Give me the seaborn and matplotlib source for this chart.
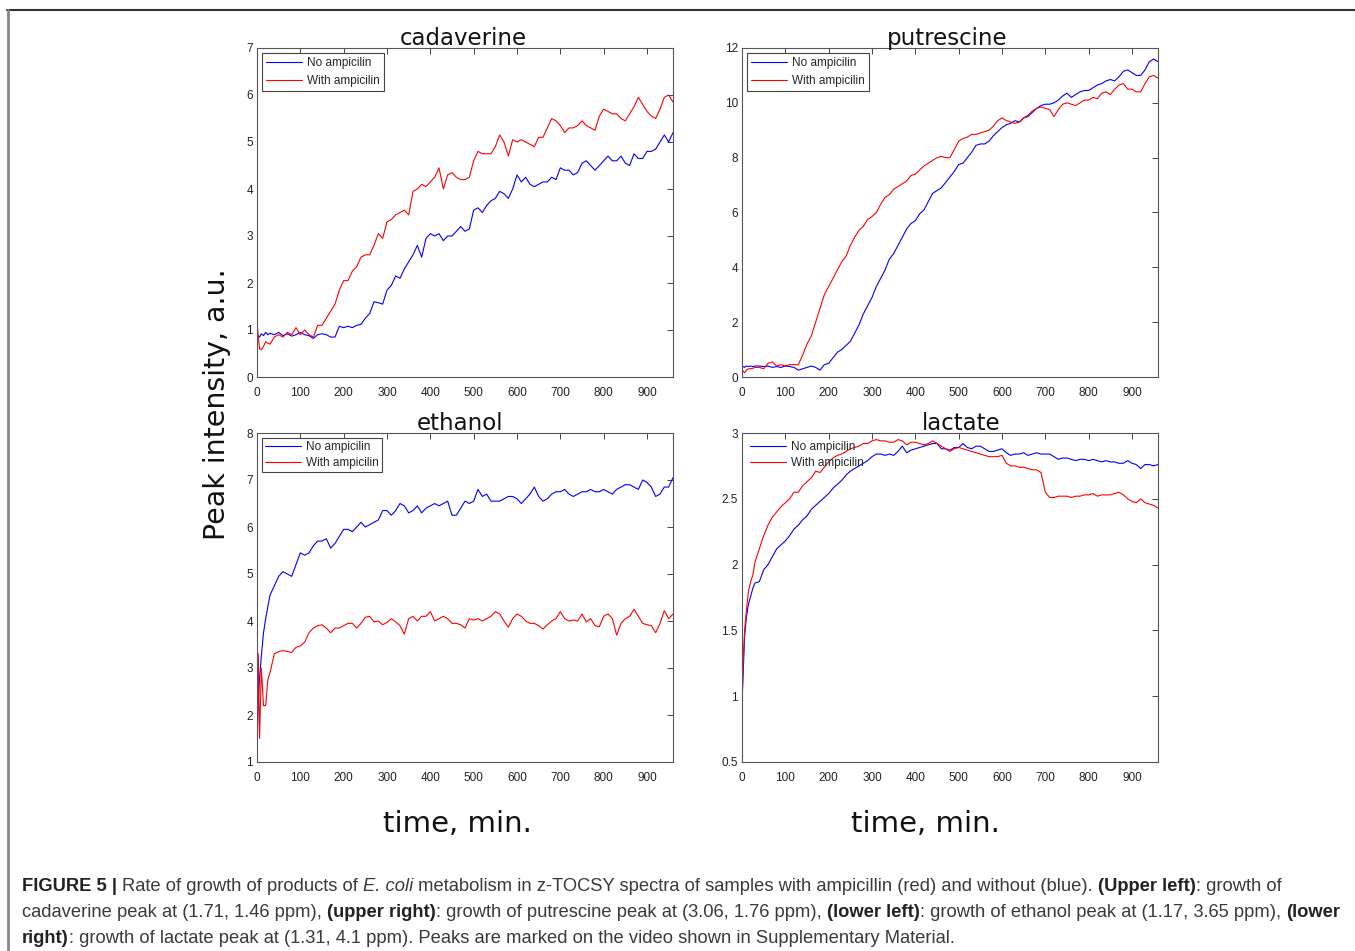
import matplotlib
matplotlib.use("Agg")
import matplotlib.pyplot as plt
from matplotlib.lines import Line2D
import pandas as pd
import seaborn as sns

sns.set_theme(style="white")
plt.rcParams["font.family"] = ["DejaVu Sans"]

# time axis (minutes), finer at the start where ethanol/lactate jump
minutes = [0, 3, 6, 10, 15, 20, 25, 30] + list(range(40, 961, 10))

labels = ["No ampicilin", "With ampicilin"]
colors = ["#0000ff", "#ff0000"]

cad_no = [0.9, 0.88, 0.85, 0.92, 0.88, 0.95, 0.9, 0.93,
          0.9, 0.95, 0.88, 0.92, 0.87, 0.9, 0.95, 0.9, 0.88, 0.82,
          0.9, 0.92, 0.9, 0.85, 0.85, 1.08, 1.05, 1.08, 1.05, 1.1,
          1.12, 1.25, 1.35, 1.6, 1.58, 1.55, 1.85, 1.95, 2.15, 2.1,
          2.3, 2.45, 2.6, 2.8, 2.55, 2.95, 3.05, 3.0, 3.05, 2.9,
          3.0, 3.0, 3.1, 3.2, 3.1, 3.15, 3.55, 3.6, 3.5, 3.65,
          3.75, 3.8, 3.95, 3.9, 3.8, 4.0, 4.3, 4.15, 4.25, 4.1,
          4.05, 4.1, 4.15, 4.15, 4.25, 4.2, 4.45, 4.4, 4.4, 4.3,
          4.35, 4.55, 4.6, 4.5, 4.4, 4.5, 4.6, 4.7, 4.6, 4.6,
          4.7, 4.55, 4.5, 4.75, 4.65, 4.65, 4.8, 4.8, 4.85, 5.0,
          5.15, 5.0, 5.2]
cad_amp = [1.15, 0.85, 0.6, 0.58, 0.65, 0.75, 0.72, 0.7,
           0.85, 0.9, 0.85, 0.95, 0.9, 1.05, 0.9, 1.0, 0.9, 0.85,
           1.1, 1.1, 1.25, 1.4, 1.55, 1.85, 2.05, 2.05, 2.25, 2.35,
           2.55, 2.6, 2.6, 2.8, 3.05, 2.95, 3.3, 3.35, 3.45, 3.5,
           3.55, 3.45, 3.95, 4.0, 4.1, 4.05, 4.15, 4.25, 4.45, 4.0,
           4.3, 4.35, 4.25, 4.2, 4.2, 4.25, 4.6, 4.8, 4.75, 4.75,
           4.75, 4.9, 5.15, 5.0, 4.7, 5.05, 5.0, 5.05, 5.0, 4.95,
           4.9, 5.1, 5.1, 5.3, 5.5, 5.45, 5.35, 5.2, 5.3, 5.3,
           5.35, 5.45, 5.35, 5.3, 5.25, 5.55, 5.7, 5.65, 5.6, 5.6,
           5.5, 5.45, 5.6, 5.75, 5.95, 5.8, 5.65, 5.55, 5.5, 5.7,
           5.95, 6.0, 5.85]

put_no = [0.35, 0.38, 0.35, 0.4, 0.38, 0.4, 0.38, 0.4,
          0.4, 0.38, 0.4, 0.35, 0.38, 0.35, 0.4, 0.38, 0.35, 0.25,
          0.3, 0.35, 0.4, 0.35, 0.25, 0.45, 0.5, 0.7, 0.9, 1.0,
          1.15, 1.3, 1.6, 1.9, 2.3, 2.6, 2.9, 3.3, 3.6, 3.9,
          4.3, 4.5, 4.8, 5.1, 5.4, 5.6, 5.7, 5.95, 6.1, 6.4,
          6.7, 6.8, 6.9, 7.1, 7.3, 7.5, 7.75, 7.8, 8.0, 8.2,
          8.45, 8.5, 8.5, 8.6, 8.8, 8.95, 9.1, 9.2, 9.25, 9.35,
          9.3, 9.45, 9.5, 9.65, 9.8, 9.9, 9.95, 9.95, 10.0, 10.1,
          10.25, 10.35, 10.2, 10.3, 10.4, 10.45, 10.45, 10.55, 10.65, 10.7,
          10.8, 10.85, 10.8, 10.95, 11.15, 11.2, 11.1, 11.0, 11.0, 11.2,
          11.5, 11.6, 11.5]
put_amp = [0.3, 0.2, 0.15, 0.25, 0.3, 0.3, 0.32, 0.35,
           0.35, 0.3, 0.5, 0.55, 0.4, 0.45, 0.4, 0.45, 0.45, 0.45,
           0.8, 1.2, 1.5, 2.0, 2.5, 3.0, 3.3, 3.6, 3.9, 4.2,
           4.4, 4.8, 5.1, 5.35, 5.5, 5.75, 5.85, 6.0, 6.3, 6.55,
           6.65, 6.85, 6.95, 7.05, 7.15, 7.35, 7.4, 7.55, 7.7, 7.8,
           7.9, 8.0, 8.05, 8.0, 8.0, 8.3, 8.6, 8.7, 8.75, 8.85,
           8.85, 8.9, 8.95, 9.0, 9.15, 9.35, 9.45, 9.35, 9.3, 9.25,
           9.3, 9.45, 9.55, 9.7, 9.8, 9.85, 9.8, 9.75, 9.5, 9.75,
           9.95, 10.0, 9.95, 9.9, 10.0, 10.1, 10.1, 10.2, 10.15, 10.35,
           10.4, 10.3, 10.5, 10.65, 10.7, 10.5, 10.5, 10.4, 10.4, 10.7,
           10.95, 11.0, 10.9]

eth_no = [1.15, 2.3, 2.8, 3.25, 3.75, 4.05, 4.3, 4.55,
          4.75, 4.95, 5.05, 5.0, 4.95, 5.2, 5.45, 5.4, 5.45, 5.6,
          5.7, 5.7, 5.75, 5.55, 5.65, 5.8, 5.95, 5.95, 5.9, 6.0,
          6.1, 6.0, 6.05, 6.1, 6.15, 6.35, 6.35, 6.25, 6.35, 6.5,
          6.45, 6.3, 6.35, 6.45, 6.3, 6.4, 6.45, 6.5, 6.45, 6.5,
          6.55, 6.25, 6.25, 6.4, 6.55, 6.5, 6.55, 6.8, 6.65, 6.7,
          6.55, 6.55, 6.55, 6.6, 6.65, 6.65, 6.6, 6.5, 6.6, 6.7,
          6.85, 6.65, 6.55, 6.6, 6.7, 6.75, 6.75, 6.8, 6.7, 6.65,
          6.7, 6.75, 6.75, 6.8, 6.75, 6.75, 6.8, 6.75, 6.7, 6.8,
          6.85, 6.9, 6.9, 6.85, 6.8, 7.0, 6.95, 6.85, 6.65, 6.7,
          6.85, 6.85, 7.05]
eth_amp = [1.15, 3.3, 1.5, 3.0, 2.2, 2.2, 2.75, 2.9,
           3.3, 3.35, 3.37, 3.35, 3.33, 3.44, 3.47, 3.55, 3.75, 3.85,
           3.9, 3.92, 3.85, 3.75, 3.85, 3.85, 3.9, 3.95, 3.95, 3.85,
           3.95, 4.08, 4.1, 3.98, 4.0, 3.92, 3.97, 4.05, 3.98, 3.9,
           3.72, 4.05, 4.1, 4.0, 4.1, 4.1, 4.2, 4.0, 4.05, 4.1,
           4.05, 3.95, 3.95, 3.92, 3.85, 4.05, 4.02, 4.05, 4.0, 4.05,
           4.1, 4.2, 4.15, 4.0, 3.87, 4.05, 4.15, 4.1, 4.0, 3.95,
           3.95, 3.9, 3.83, 3.92, 4.0, 4.05, 4.2, 4.05, 4.0, 4.02,
           4.0, 4.15, 3.98, 4.05, 3.9, 3.88, 4.1, 4.15, 4.05, 3.7,
           3.95, 4.05, 4.1, 4.25, 4.1, 3.95, 3.92, 3.9, 3.75, 3.95,
           4.22, 4.05, 4.15]

lac_no = [0.95, 1.2, 1.45, 1.6, 1.7, 1.76, 1.82, 1.86,
          1.87, 1.96, 2.0, 2.06, 2.12, 2.15, 2.18, 2.22, 2.27, 2.3,
          2.34, 2.37, 2.42, 2.45, 2.48, 2.51, 2.54, 2.58, 2.61, 2.64,
          2.68, 2.71, 2.73, 2.75, 2.77, 2.79, 2.82, 2.84, 2.84, 2.83,
          2.84, 2.83, 2.86, 2.9, 2.85, 2.87, 2.88, 2.89, 2.9, 2.91,
          2.92, 2.92, 2.88, 2.88, 2.87, 2.89, 2.89, 2.92, 2.89, 2.88,
          2.9, 2.9, 2.88, 2.86, 2.86, 2.87, 2.88, 2.85, 2.83, 2.84,
          2.84, 2.85, 2.83, 2.84, 2.85, 2.84, 2.84, 2.84, 2.82, 2.8,
          2.81, 2.81, 2.8, 2.79, 2.8, 2.8, 2.79, 2.8, 2.79, 2.78,
          2.79, 2.78, 2.78, 2.77, 2.77, 2.79, 2.77, 2.76, 2.73, 2.76,
          2.76, 2.75, 2.76]
lac_amp = [0.92, 1.3, 1.5, 1.65, 1.8, 1.87, 1.92, 2.02,
           2.12, 2.22, 2.3, 2.36, 2.4, 2.44, 2.47, 2.5, 2.55, 2.55,
           2.6, 2.63, 2.66, 2.71, 2.7, 2.74, 2.78, 2.81, 2.83, 2.84,
           2.86, 2.88, 2.89, 2.9, 2.92, 2.92, 2.94, 2.95, 2.94, 2.94,
           2.93, 2.93, 2.95, 2.94, 2.91, 2.93, 2.93, 2.92, 2.91, 2.92,
           2.94, 2.92, 2.9, 2.88, 2.86, 2.88, 2.89, 2.88, 2.87, 2.86,
           2.85, 2.84, 2.83, 2.82, 2.82, 2.82, 2.83, 2.77, 2.75, 2.75,
           2.74, 2.74, 2.73, 2.72, 2.72, 2.7, 2.55, 2.51, 2.51, 2.52,
           2.52, 2.52, 2.51, 2.52, 2.52, 2.53, 2.53, 2.54, 2.52, 2.53,
           2.53, 2.53, 2.54, 2.55, 2.53, 2.5, 2.48, 2.47, 2.5, 2.47,
           2.46, 2.45, 2.43]

x_ticks = [0, 100, 200, 300, 400, 500, 600, 700, 800, 900]
panels = [
    ("cadaverine", cad_no, cad_amp, (0, 7), [0, 1, 2, 3, 4, 5, 6, 7], None),
    ("putrescine", put_no, put_amp, (0, 12), [0, 2, 4, 6, 8, 10, 12], None),
    ("ethanol", eth_no, eth_amp, (1, 8), [1, 2, 3, 4, 5, 6, 7, 8], None),
    ("lactate", lac_no, lac_amp, (0.5, 3), [0.5, 1, 1.5, 2, 2.5, 3],
     ["0.5", "1", "1.5", "2", "2.5", "3"]),
]

W, H = 1355, 951
fig = plt.figure(figsize=(W / 100, H / 100), dpi=100)
fig.patch.set_facecolor("white")

# axes corners in pixels, and small title shifts as in the original
boxes = [(257, 48), (742, 48), (257, 433), (742, 433)]
title_shift = [-2, -2.5, -5.5, 11]
aw, ah = 416, 329

for i, ((title, no, amp, ylim, yt, ytl), (px, py)) in enumerate(zip(panels, boxes)):
    ax = fig.add_axes([px / W, 1 - (py + ah) / H, aw / W, ah / H])
    df = pd.DataFrame({
        "time": minutes + minutes,
        "value": no + amp,
        "condition": [labels[0]] * len(minutes) + [labels[1]] * len(minutes),
    })
    sns.lineplot(data=df, x="time", y="value", hue="condition",
                 palette=dict(zip(labels, colors)), estimator=None,
                 linewidth=0.8, legend=False, ax=ax)
    ax.set_xlim(0, 960)
    ax.set_ylim(*ylim)
    ax.set_xticks(x_ticks)
    ax.set_yticks(yt)
    if ytl is not None:
        ax.set_yticklabels(ytl)
    ax.set_xlabel("")
    ax.set_ylabel("")
    for lab in ax.get_xticklabels() + ax.get_yticklabels():
        lab.set_fontfamily("Liberation Sans")
        lab.set_fontsize(8.5)
        lab.set_color("#222222")
    ax.tick_params(direction="in", top=True, right=True, length=4,
                   width=0.7, color="#444444")
    ax.tick_params(axis="x", pad=7)
    ax.tick_params(axis="y", pad=3)
    for sp in ax.spines.values():
        sp.set_color("#555555")
        sp.set_linewidth(0.8)
    ax.set_title(title, fontsize=16.5, pad=2.5, color="#111111",
                 x=0.5 + title_shift[i] / aw)
    handles = [Line2D([], [], color=c, lw=0.8) for c in colors]
    top_row = i < 2
    leg = ax.legend(handles, labels, loc="upper left", fancybox=False,
                    edgecolor="#444444", framealpha=1 if title != "lactate" else 0,
                    prop={"family": "Liberation Sans", "size": 8.5},
                    handlelength=3.0, handletextpad=0.45, borderaxespad=0.45,
                    borderpad=0.35 if top_row else 0.25,
                    labelspacing=0.45 if top_row else 0.3)
    leg.get_frame().set_linewidth(0.8)

fig.text(217 / W, 1 - 404 / H, "Peak intensity, a.u.", rotation=90,
         fontsize=20.5, ha="center", va="center", color="#111111")
for cx in (457, 925):
    fig.text(cx / W, 1 - 824 / H, "time, min.", fontsize=21,
             ha="center", va="center", color="#111111")

# frame lines around the figure panel
fig.add_artist(Line2D([7 / W, 1], [1 - 10 / H, 1 - 10 / H], color="#333333", lw=1.5))
fig.add_artist(Line2D([8 / W, 8 / W], [0, 1 - 10 / H], color="#888888", lw=2))

# caption with mixed styles
renderer = fig.canvas.get_renderer()
cap_size = 13.2


def seg_width(txt, weight, style):
    a = fig.text(0, 0, "|" + txt + "|", fontsize=cap_size, weight=weight,
                 style=style, family="Liberation Sans")
    b = fig.text(0, 0, "||", fontsize=cap_size, weight=weight,
                 style=style, family="Liberation Sans")
    w = a.get_window_extent(renderer).width - b.get_window_extent(renderer).width
    a.remove()
    b.remove()
    return w


caption = [
    [("FIGURE 5 | ", "bold", "normal"), ("Rate of growth of products of ", "normal", "normal"),
     ("E. coli", "normal", "italic"),
     (" metabolism in z-TOCSY spectra of samples with ampicillin (red) and without (blue). ", "normal", "normal"),
     ("(Upper left)", "bold", "normal"), (": growth of", "normal", "normal")],
    [("cadaverine peak at (1.71, 1.46 ppm), ", "normal", "normal"), ("(upper right)", "bold", "normal"),
     (": growth of putrescine peak at (3.06, 1.76 ppm), ", "normal", "normal"),
     ("(lower left)", "bold", "normal"),
     (": growth of ethanol peak at (1.17, 3.65 ppm), ", "normal", "normal"),
     ("(lower", "bold", "normal")],
    [("right)", "bold", "normal"),
     (": growth of lactate peak at (1.31, 4.1 ppm). Peaks are marked on the video shown in Supplementary Material.",
      "normal", "normal")],
]
for line, ybase in zip(caption, (891, 917, 943)):
    xpix = 22
    for txt, weight, style in line:
        color = "#222222" if weight == "bold" else "#3a3a3a"
        fig.text(xpix / W, 1 - ybase / H, txt, fontsize=cap_size, weight=weight,
                 style=style, family="Liberation Sans", va="baseline", color=color)
        xpix += seg_width(txt, weight, style)

fig.savefig("out.png", dpi=100, facecolor="white")
